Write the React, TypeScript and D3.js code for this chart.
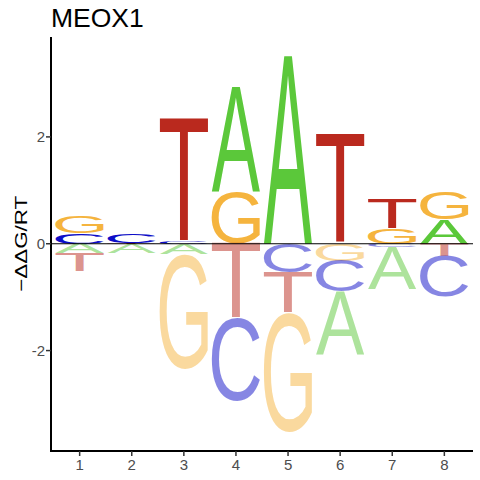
import React, { useMemo } from "react";
import * as d3 from "d3";

const title = "MEOX1";
const positions = [1, 2, 3, 4, 5, 6, 7, 8];
const bases = ["A", "C", "G", "T"];
// signed -ddG/RT contribution of every base at every position
const valuesA = [-0.18, -0.17, -0.2, 1.97, 3.52, -1.17, -0.79, 0.46];
const valuesC = [0.19, 0.16, 0.04, -1.55, -0.54, -0.58, -0.06, -0.76];
const valuesG = [0.31, 0, -2.14, 0.97, -2.23, -0.32, 0.29, 0.51];
const valuesT = [-0.34, 0.01, 2.3, -1.4, -0.75, 2.05, 0.55, -0.23];
const yTicks = [-2, 0, 2];

const colors: Record<string, string> = {
  A: "#5bc83a",
  C: "#0d0dc8",
  G: "#f5b43e",
  T: "#ba291e",
};

const W = 480;
const H = 480;
const FONT = "Liberation Sans, Arial, sans-serif";

function measureGlyphs() {
  const ctx = document.createElement("canvas").getContext("2d");
  const out: Record<string, { l: number; r: number; a: number; d: number }> = {};
  bases.forEach((b) => {
    if (!ctx) {
      out[b] = { l: 0, r: 67, a: 72, d: 0 };
      return;
    }
    ctx.font = `100px ${FONT}`;
    const m = ctx.measureText(b);
    out[b] = {
      l: m.actualBoundingBoxLeft,
      r: m.actualBoundingBoxRight,
      a: m.actualBoundingBoxAscent,
      d: m.actualBoundingBoxDescent,
    };
  });
  return out;
}

export default function App() {
  const glyphs = useMemo(measureGlyphs, []);

  const x = d3.scaleLinear().domain([0.45, 8.55]).range([51, 473]);
  const y = d3.scaleLinear().domain([-3.88, 3.87]).range([451, 37]);
  const letterW = 0.93;

  const series: Record<string, number[]> = {
    A: valuesA,
    C: valuesC,
    G: valuesG,
    T: valuesT,
  };

  // stack each column: smallest letters next to the zero line
  const letters: any[] = [];
  positions.forEach((p, i) => {
    const col = bases.map((b) => ({ b, v: series[b][i] }));
    const pos = col.filter((d) => d.v > 0).sort((a, b) => a.v - b.v);
    const neg = col.filter((d) => d.v < 0).sort((a, b) => b.v - a.v);
    let acc = 0;
    pos.forEach((d) => {
      letters.push({ b: d.b, p, y0: acc, y1: acc + d.v, neg: false });
      acc += d.v;
    });
    acc = 0;
    neg.forEach((d) => {
      letters.push({ b: d.b, p, y0: acc + d.v, y1: acc, neg: true });
      acc += d.v;
    });
  });

  return (
    <svg
      width={W}
      height={H}
      style={{ position: "absolute", left: 0, top: 0, background: "#fff" }}
    >
      <text x={51} y={27} fontFamily={FONT} fontSize={26.5} fill="#000">
        {title}
      </text>

      {letters.map((d, k) => {
        const g = glyphs[d.b];
        const x0 = x(d.p - letterW / 2);
        const x1 = x(d.p + letterW / 2);
        const top = y(d.y1);
        const bot = y(d.y0);
        const sx = (x1 - x0) / (g.l + g.r);
        const sy = (bot - top) / (g.a + g.d);
        return (
          <text
            key={k}
            transform={`translate(${x0 + g.l * sx},${top + g.a * sy}) scale(${sx},${sy})`}
            fontFamily={FONT}
            fontSize={100}
            fill={colors[d.b]}
            fillOpacity={d.neg ? 0.5 : 1}
          >
            {d.b}
          </text>
        );
      })}

      {/* zero line */}
      <line x1={51} x2={473} y1={y(0)} y2={y(0)} stroke="#000" strokeWidth={1.2} />

      {/* axes */}
      <line x1={51} x2={51} y1={37} y2={452} stroke="#000" strokeWidth={2} />
      <line x1={50} x2={473} y1={451} y2={451} stroke="#000" strokeWidth={2} />

      {yTicks.map((t) => (
        <g key={t}>
          <line x1={46} x2={51} y1={y(t)} y2={y(t)} stroke="#333" strokeWidth={1.5} />
          <text
            x={45}
            y={y(t)}
            dy="0.36em"
            textAnchor="end"
            fontFamily={FONT}
            fontSize={15}
            fill="#4d4d4d"
          >
            {t < 0 ? `-${-t}` : t}
          </text>
        </g>
      ))}

      {positions.map((p) => (
        <g key={p}>
          <line x1={x(p)} x2={x(p)} y1={451} y2={456} stroke="#333" strokeWidth={1.5} />
          <text
            x={x(p)}
            y={469.5}
            textAnchor="middle"
            fontFamily={FONT}
            fontSize={15}
            fill="#4d4d4d"
          >
            {p}
          </text>
        </g>
      ))}

      <text
        transform={`translate(26.5,${y(0)}) rotate(-90)`}
        textAnchor="middle"
        fontFamily={FONT}
        fontSize={17}
        fill="#000"
        textLength={96}
        lengthAdjust="spacingAndGlyphs"
      >
        −ΔΔG/RT
      </text>
    </svg>
  );
}
